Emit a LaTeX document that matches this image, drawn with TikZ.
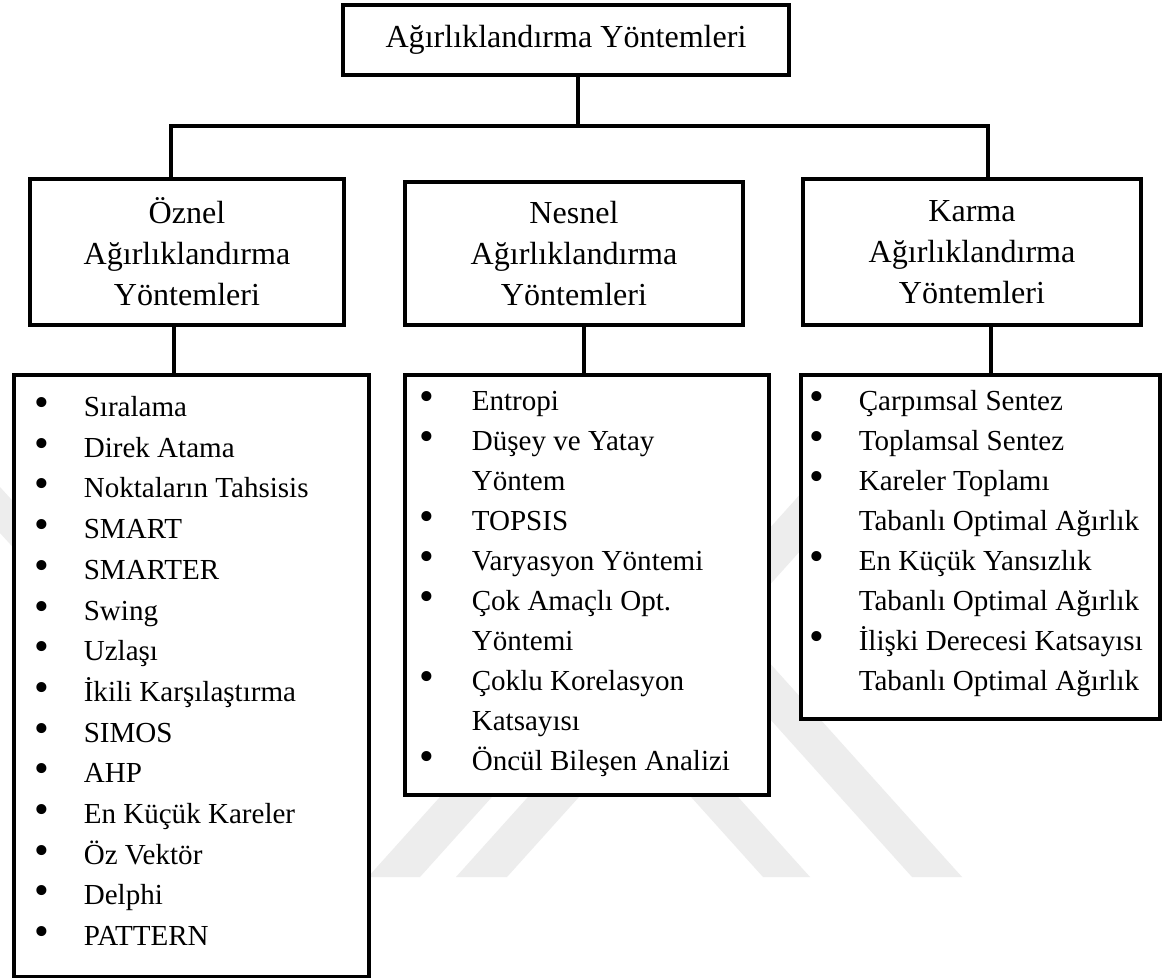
\documentclass[tikz,border=0pt]{standalone}
\usepackage{fontspec}
\setmainfont{Liberation Serif}
\usepackage{graphicx}
\usepackage{tikz}
\usetikzlibrary{calc}

% one pixel of the page
\newlength\pxu
\setlength\pxu{0.413pt}
% list indents
\newlength\bulind
\newlength\bulgap
\newcommand{\bul}{\scalebox{1.45}{\textbullet}}
\newcommand{\itm}[1]{\strut\hspace*{\bulind}\makebox[\bulgap][l]{\bul}#1\par}
\newcommand{\cnt}[1]{\strut\hspace*{\bulind}\hspace*{\bulgap}#1\par}

\begin{document}
\begin{tikzpicture}[x=0.413pt, y=-0.413pt,
    headbox/.style={draw, line width=1.5pt, fill=white, align=center, inner sep=0pt,
                    font=\fontsize{13.25}{16.9}\selectfont},
    listbox/.style={draw, line width=1.5pt, fill=white, inner sep=0pt, anchor=north west},
    link/.style={line width=1.4pt},
    wmark/.style={fill=black!7}]
    \path[use as bounding box, fill=white] (0,0) rectangle (1163,978);

    % faint watermark
    \fill[wmark] (0,487) -- (40,531) -- (40,577) -- (0,533) -- cycle;
    \fill[wmark] (368,877) -- (420,877) -- (669,600) -- (617,600) -- cycle;
    \fill[wmark] (456,877) -- (507,877) -- (864,480) -- (813,480) -- cycle;
    \fill[wmark] (763,877) -- (810,877) -- (525,560) -- (478,560) -- cycle;
    \fill[wmark] (912,877) -- (962,877) -- (713,600) -- (663,600) -- cycle;

    % top and group boxes
    \node[headbox, minimum width=446\pxu, minimum height=70\pxu] (top) at (566,40) {Ağırlıklandırma Yöntemleri};
    \node[headbox, minimum width=314\pxu, minimum height=146\pxu] (ozn) at (187,252) {Öznel\\Ağırlıklandırma\\Yöntemleri};
    \node[headbox, minimum width=338\pxu, minimum height=143\pxu] (nes) at (574,253.5) {Nesnel\\Ağırlıklandırma\\Yöntemleri};
    \node[headbox, minimum width=338\pxu, minimum height=146\pxu] (kar) at (972,252) {Karma\\Ağırlıklandırma\\Yöntemleri};

    % method lists
    \node[listbox] (oznlist) at (12,373) {\parbox[t][602\pxu][t]{355\pxu}{%
        \fontsize{12}{16.8}\selectfont\setlength\bulind{21\pxu}\setlength\bulgap{49\pxu}%
        \vspace*{5.5pt}%
        \itm{Sıralama}\itm{Direk Atama}\itm{Noktaların Tahsisis}\itm{SMART}\itm{SMARTER}%
        \itm{Swing}\itm{Uzlaşı}\itm{İkili Karşılaştırma}\itm{SIMOS}\itm{AHP}%
        \itm{En Küçük Kareler}\itm{Öz Vektör}\itm{Delphi}\itm{PATTERN}}};
    \node[listbox] (neslist) at (403,373) {\parbox[t][420\pxu][t]{364\pxu}{%
        \fontsize{12}{16.5}\selectfont\setlength\bulind{15\pxu}\setlength\bulgap{52\pxu}%
        \vspace*{3.3pt}%
        \itm{Entropi}\itm{Düşey ve Yatay}\cnt{Yöntem}\itm{TOPSIS}\itm{Varyasyon Yöntemi}%
        \itm{Çok Amaçlı Opt.}\cnt{Yöntemi}\itm{Çoklu Korelasyon}\cnt{Katsayısı}%
        \itm{Öncül Bileşen Analizi}}};
    \node[listbox] (karlist) at (799,373) {\parbox[t][344\pxu][t]{359\pxu}{%
        \fontsize{12}{16.5}\selectfont\setlength\bulind{9\pxu}\setlength\bulgap{49\pxu}%
        \vspace*{3.3pt}%
        \itm{Çarpımsal Sentez}\itm{Toplamsal Sentez}\itm{Kareler Toplamı}\cnt{Tabanlı Optimal Ağırlık}%
        \itm{En Küçük Yansızlık}\cnt{Tabanlı Optimal Ağırlık}%
        \itm{İlişki Derecesi Katsayısı}\cnt{Tabanlı Optimal Ağırlık}}};

    % connectors
    \coordinate (barM) at (578,126);
    \coordinate (barL) at (171,126);
    \coordinate (barR) at (988,126);
    \draw[link] (barM |- top.south) -- (barM);
    \draw[link] (barL |- ozn.north) -- (barL) -- (barR) -- (barR |- kar.north);
    \coordinate (oznc) at ([xshift=-13\pxu]ozn.south);
    \coordinate (nesc) at ([xshift=10\pxu]nes.south);
    \coordinate (karc) at ([xshift=19\pxu]kar.south);
    \draw[link] (oznc) -- (oznc |- oznlist.north);
    \draw[link] (nesc) -- (nesc |- neslist.north);
    \draw[link] (karc) -- (karc |- karlist.north);
\end{tikzpicture}
\end{document}
